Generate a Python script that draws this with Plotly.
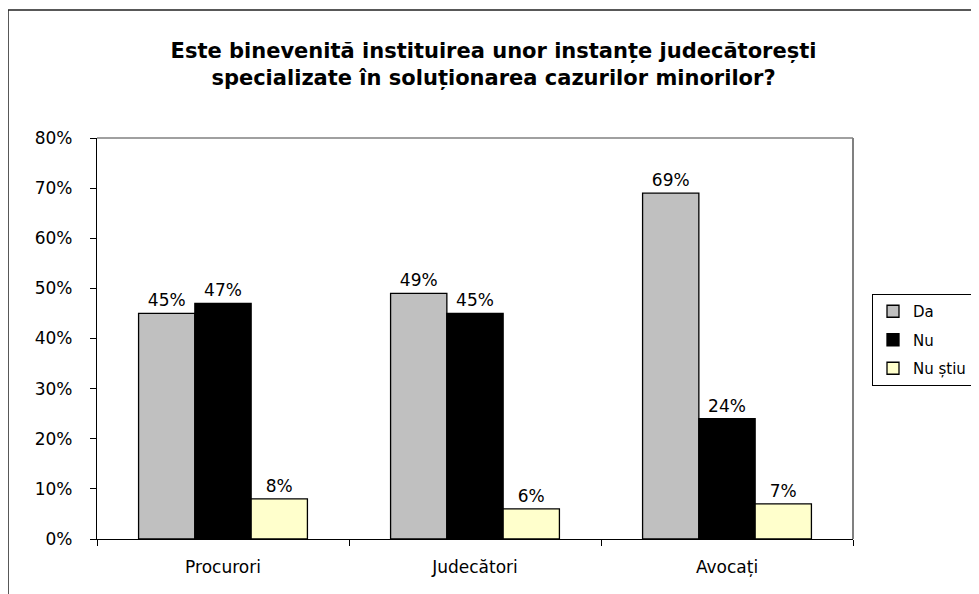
import plotly.graph_objects as go

categories = ["Procurori", "Judecători", "Avocați"]
series_names = ["Da", "Nu", "Nu știu"]
da_values = [45, 49, 69]
nu_values = [47, 45, 24]
nustiu_values = [8, 6, 7]
y_tick_values = [0, 10, 20, 30, 40, 50, 60, 70, 80]
y_tick_labels = ["0%", "10%", "20%", "30%", "40%", "50%", "60%", "70%", "80%"]
title_text = "Este binevenită instituirea unor instanțe judecătorești<br>specializate în soluționarea cazurilor minorilor?"

colors = ["#C0C0C0", "#000000", "#FFFFCC"]
all_values = [da_values, nu_values, nustiu_values]

OFF = 8  # page body margin
W, H = 971, 586
ml, mt = 97 - OFF, 138 - OFF
pw, ph = 756, 401
mr = W - ml - pw
mb = H - mt - ph

FAM = "DejaVu Sans, Liberation Sans, Arial"
font = dict(family=FAM, size=17, color="#000000")

fig = go.Figure()
for name, vals, col in zip(series_names, all_values, colors):
    fig.add_trace(go.Bar(
        name=name, x=categories, y=vals, legendgroup=name,
        marker=dict(color=col, line=dict(color="#000000", width=1.3)),
        text=[f"{v}%" for v in vals], textposition="outside",
        textfont=font, cliponaxis=False,
    ))

def px_x(p):
    return (p - OFF - ml) / pw

def px_y(p):
    return 1 - (p - OFF - mt) / ph

fig.update_layout(
    width=W, height=H,
    margin=dict(l=ml, r=mr, t=mt, b=mb, autoexpand=False),
    paper_bgcolor="white", plot_bgcolor="white",
    barmode="group", bargap=0.33, bargroupgap=0,
    font=font,
    title=dict(text=title_text, x=0.5, xanchor="center", y=1 - 50 / H, yanchor="middle",
               font=dict(family=FAM, size=21, color="#000000", weight="bold")),
    showlegend=True,
    legend=dict(x=px_x(872), xanchor="left", y=px_y(294), yanchor="top",
                bordercolor="#000000", borderwidth=1, bgcolor="white",
                font=dict(family=FAM, size=15, color="#000000"),
                itemwidth=30, tracegroupgap=6, traceorder="grouped"),
    xaxis=dict(showline=True, linecolor="#000000", linewidth=1.3, mirror=False,
               ticks="outside", tickson="boundaries", ticklen=6, tickcolor="#000000",
               showgrid=False, tickfont=font, ticklabelstandoff=12),
    yaxis=dict(range=[0, 80], tickvals=y_tick_values, ticktext=y_tick_labels,
               showline=True, linecolor="#000000", linewidth=1.3,
               ticks="outside", ticklen=6, tickcolor="#000000", showgrid=False,
               zeroline=False, tickfont=font, ticklabelstandoff=14),
    shapes=[
        dict(type="line", xref="paper", yref="paper", x0=0, x1=1, y0=1, y1=1,
             line=dict(color="#808080", width=1.5)),
        dict(type="line", xref="paper", yref="paper", x0=1, x1=1, y0=0, y1=1,
             line=dict(color="#808080", width=2)),
        dict(type="rect", xref="paper", yref="paper",
             x0=px_x(8), x1=px_x(1000), y0=px_y(620), y1=px_y(10),
             line=dict(color="#222222", width=1.5), layer="below"),
    ],
)

fig.write_html("out.html")
